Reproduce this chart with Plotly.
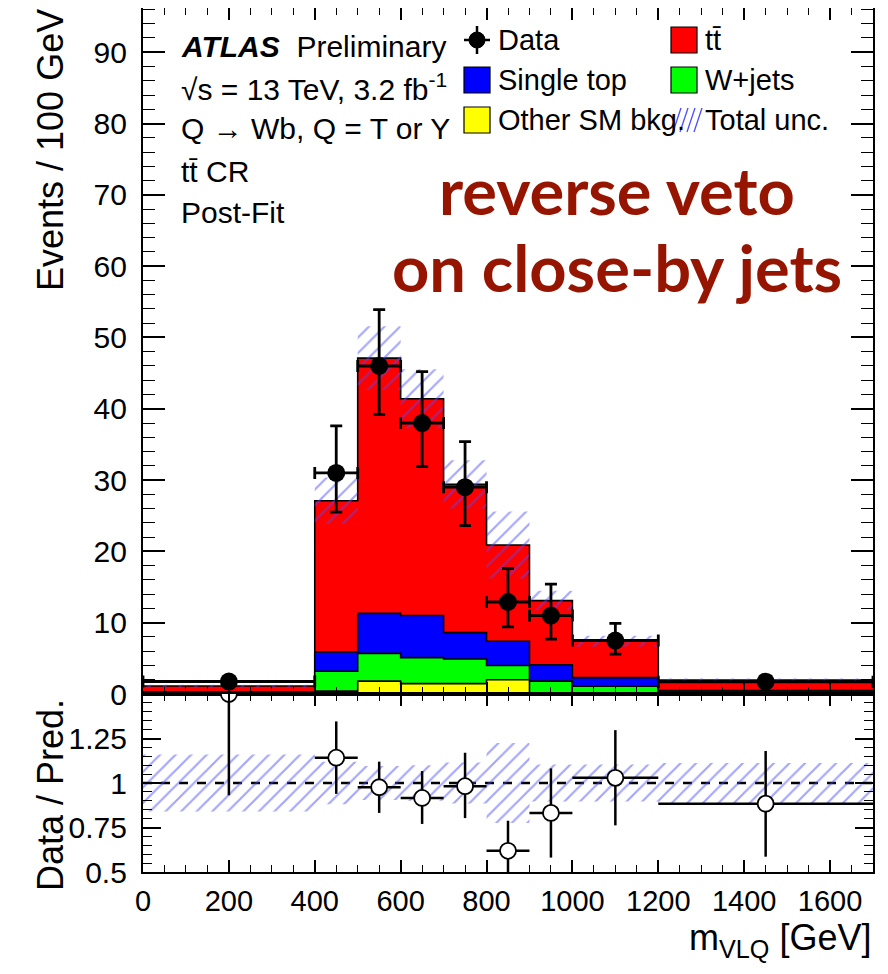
import plotly.graph_objects as go

# ---------------- data ----------------
edges = [0, 400, 500, 600, 700, 800, 900, 1000, 1200, 1700]
centers = [200, 450, 550, 650, 750, 850, 950, 1100, 1450]
half_widths = [200, 50, 50, 50, 50, 50, 50, 100, 250]

ttbar = [0.82, 21.2, 35.8, 30.4, 20.8, 13.5, 9.0, 5.1, 1.45]
single_top = [0.15, 2.7, 5.6, 5.9, 3.7, 3.4, 2.3, 1.2, 0.25]
wjets = [0.10, 2.8, 3.9, 3.65, 3.45, 2.0, 1.7, 1.05, 0.2]
other_sm = [0.05, 0.4, 1.8, 1.45, 1.45, 2.0, 0.1, 0.05, 0.05]
rel_unc = [0.16, 0.12, 0.095, 0.10, 0.115, 0.225, 0.104, 0.104, 0.113]

data = [1.75, 31.0, 46.0, 38.0, 29.0, 12.9, 11.0, 7.5, 1.72]
data_err_up = [0.65, 6.6, 7.9, 7.2, 6.4, 4.7, 4.4, 2.4, 0.8]
data_err_dn = [0.55, 5.5, 6.8, 6.1, 5.4, 3.5, 3.3, 1.9, 0.6]

ratio = [1.5, 1.142, 0.976, 0.916, 0.982, 0.619, 0.832, 1.029, 0.884]
ratio_err_up = [0.0, 0.204, 0.144, 0.151, 0.188, 0.169, 0.25, 0.268, 0.296]
ratio_err_dn = [0.569, 0.203, 0.144, 0.146, 0.179, 0.17, 0.251, 0.267, 0.298]

x_ticks = [0, 200, 400, 600, 800, 1000, 1200, 1400, 1600]
y_ticks = [0, 10, 20, 30, 40, 50, 60, 70, 80, 90]
ratio_ticks = [0.5, 0.75, 1.0, 1.25]
ratio_ticktext = ["0.5", "0.75", "1", "1.25"]

# ---------------- layout constants ----------------
OFF = 8  # default page body margin
W, H = 888 - 2 * OFF, 974 - 2 * OFF
ML, MR, MT, MB = 143 - OFF, W - (873 - OFF), 0, H - (872 - OFF)
PW, PH = W - ML - MR, H - MT - MB
SPLIT = (872 - 694) / PH  # ratio panel fraction

FONT = "Liberation Sans, Arial, Helvetica, sans-serif"
NARROW = "Liberation Sans Narrow, Liberation Sans, Arial, sans-serif"


def px(x):
    return (x - OFF - ML) / PW


def py(y):
    return (H - MB - (y - OFF)) / PH


def step(vals):
    return list(vals) + [vals[-1]]


cum_y = other_sm
cum_g = [a + b for a, b in zip(cum_y, wjets)]
cum_b = [a + b for a, b in zip(cum_g, single_top)]
total = [a + b for a, b in zip(cum_b, ttbar)]
band_lo = [t * (1 - r) for t, r in zip(total, rel_unc)]
band_hi = [t * (1 + r) for t, r in zip(total, rel_unc)]
rband_lo = [1 - r for r in rel_unc]
rband_hi = [1 + r for r in rel_unc]

HATCH_COL = "rgb(75,75,255)"
HATCH = dict(shape="/", fgcolor=HATCH_COL, bgcolor="rgba(0,0,0,0)",
             size=11, solidity=0.2)

fig = go.Figure()

for vals, col, name in [(total, "#ff0000", "tt"), (cum_b, "#0000ff", "Single top"),
                        (cum_g, "#00ff00", "W+jets"), (cum_y, "#ffff00", "Other SM")]:
    fig.add_trace(go.Scatter(x=edges, y=step(vals), mode="lines", line_shape="hv",
                             line=dict(color="black", width=1.6), fill="tozeroy",
                             fillcolor=col, name=name, showlegend=False,
                             xaxis="x", yaxis="y"))

fig.add_trace(go.Scatter(x=edges, y=step(band_lo), mode="lines", line_shape="hv",
                         line=dict(width=0, color="rgba(0,0,0,0)"), showlegend=False,
                         xaxis="x", yaxis="y", hoverinfo="skip"))
fig.add_trace(go.Scatter(x=edges, y=step(band_hi), mode="lines", line_shape="hv",
                         line=dict(width=0, color="rgba(0,0,0,0)"), fill="tonexty",
                         fillcolor="rgba(0,0,0,0)", fillpattern=HATCH,
                         showlegend=False, xaxis="x", yaxis="y", hoverinfo="skip"))

fig.add_trace(go.Scatter(
    x=centers, y=data, mode="markers",
    marker=dict(color="black", size=18, symbol="circle"),
    error_y=dict(type="data", symmetric=False, array=data_err_up, arrayminus=data_err_dn,
                 color="black", thickness=2.8, width=6),
    error_x=dict(type="data", array=half_widths, color="black", thickness=2.8, width=6),
    showlegend=False, xaxis="x", yaxis="y"))

# ratio panel
fig.add_trace(go.Scatter(x=edges, y=step(rband_lo), mode="lines", line_shape="hv",
                         line=dict(width=0, color="rgba(0,0,0,0)"), showlegend=False,
                         xaxis="x2", yaxis="y2", hoverinfo="skip"))
fig.add_trace(go.Scatter(x=edges, y=step(rband_hi), mode="lines", line_shape="hv",
                         line=dict(width=0, color="rgba(0,0,0,0)"), fill="tonexty",
                         fillcolor="rgba(0,0,0,0)", fillpattern=HATCH,
                         showlegend=False, xaxis="x2", yaxis="y2", hoverinfo="skip"))
fig.add_trace(go.Scatter(
    x=centers, y=ratio, mode="markers",
    marker=dict(color="white", size=16, symbol="circle", line=dict(color="black", width=1.8)),
    error_y=dict(type="data", symmetric=False, array=ratio_err_up, arrayminus=ratio_err_dn,
                 color="black", thickness=2.5, width=0),
    error_x=dict(type="data", array=half_widths, color="black", thickness=2.5, width=0),
    showlegend=False, xaxis="x2", yaxis="y2"))

axis_common = dict(showline=True, linecolor="black", linewidth=2.2, mirror="ticks",
                   ticks="inside", tickcolor="black", tickwidth=1.6, showgrid=False,
                   zeroline=False)
YFONT = dict(family=FONT, size=30, color="black")
XFONT = dict(family=NARROW, size=29, color="black")

fig.update_layout(
    width=W, height=H, margin=dict(l=ML, r=MR, t=MT, b=MB, autoexpand=False),
    paper_bgcolor="white", plot_bgcolor="white", showlegend=False,
    xaxis=dict(domain=[0, 1], anchor="y", range=[0, 1700], tickvals=x_ticks,
               showticklabels=False, ticklen=12,
               minor=dict(dtick=50, tick0=0, ticklen=7, ticks="inside", tickcolor="black",
                          tickwidth=1.4),
               matches="x2", **axis_common),
    yaxis=dict(domain=[SPLIT, 1], anchor="x", range=[0, 96.2], tickvals=y_ticks,
               ticklen=22, ticklabelstandoff=8, tickfont=YFONT,
               minor=dict(dtick=2, tick0=0, ticklen=12, ticks="inside", tickcolor="black",
                          tickwidth=1.4),
               **axis_common),
    xaxis2=dict(domain=[0, 1], anchor="y2", range=[0, 1700], tickvals=x_ticks,
                ticklen=12, ticklabelstandoff=2, tickfont=XFONT,
                minor=dict(dtick=50, tick0=0, ticklen=7, ticks="inside", tickcolor="black",
                           tickwidth=1.4),
                **axis_common),
    yaxis2=dict(domain=[0, SPLIT], anchor="x2", range=[0.5, 1.5], tickvals=ratio_ticks,
                ticktext=ratio_ticktext, ticklen=18, ticklabelstandoff=8, tickfont=YFONT,
                minor=dict(dtick=0.05, tick0=0.5, ticklen=9, ticks="inside", tickcolor="black",
                           tickwidth=1.4),
                **axis_common),
)

# dashed line at 1
fig.add_shape(type="line", xref="x2", yref="y2", x0=edges[0], x1=edges[-1], y0=1, y1=1,
              line=dict(color="black", width=2.5, dash="dash"), layer="below")

ann = []
TXT = 30
# axis titles
ann.append(dict(text="Events / 100 GeV", x=px(50), y=py(150), textangle=-90,
                font=dict(family=FONT, size=36, color="black")))
ann.append(dict(text="Data / Pred.", x=px(50), y=py(795), textangle=-90,
                font=dict(family=FONT, size=36, color="black")))
ann.append(dict(text="m<sub>VLQ</sub> [GeV]", x=1.0, y=py(940), xanchor="right",
                font=dict(family=FONT, size=36, color="black")))

# ATLAS labels
lines = ["<b><i>ATLAS</i></b>  Preliminary",
         "√s = 13 TeV, 3.2 fb<sup>-1</sup>",
         "Q → Wb, Q = T or Y",
         "tt\u0304 CR",
         "Post-Fit"]
for t, yy in zip(lines, [46, 87, 129, 171, 212]):
    ann.append(dict(text=t, x=px(179), y=py(yy), xanchor="left",
                    font=dict(family=FONT, size=TXT, color="black")))

# big red text
for t, yy in [("reverse veto", 190), ("on close-by jets", 267)]:
    ann.append(dict(text="<b>" + t + "</b>", x=px(617), y=py(yy),
                    font=dict(family="Lato, Open Sans, sans-serif", size=65, color="#961500")))

# legend
leg_rows = [40, 80, 120]
col1_box, col2_box = 464, 671
BOX = 26
legend_items = [
    ("Data", 0, 0, None),
    ("tt\u0304", 1, 0, "#ff0000"),
    ("Single top", 0, 1, "#0000ff"),
    ("W+jets", 1, 1, "#00ff00"),
    ("Other SM bkg.", 0, 2, "#ffff00"),
    ("Total unc.", 1, 2, "hatch"),
]
for label, col, row, color in legend_items:
    bx = col1_box if col == 0 else col2_box
    cy = leg_rows[row]
    if color is None:
        cx = bx + BOX / 2
        fig.add_shape(type="line", xref="paper", yref="paper", x0=px(cx), x1=px(cx),
                      y0=py(cy - 14), y1=py(cy + 14), line=dict(color="black", width=2.5))
        fig.add_shape(type="line", xref="paper", yref="paper", x0=px(bx), x1=px(bx + BOX),
                      y0=py(cy), y1=py(cy), line=dict(color="black", width=2.5))
        fig.add_shape(type="circle", xref="paper", yref="paper", x0=px(cx - 8), x1=px(cx + 8),
                      y0=py(cy + 8), y1=py(cy - 8), fillcolor="black",
                      line=dict(color="black", width=1))
    elif color == "hatch":
        for k in range(4):
            x0 = bx + 2 + k * 7
            fig.add_shape(type="line", xref="paper", yref="paper", x0=px(x0), x1=px(x0 + 8),
                          y0=py(cy + 12), y1=py(cy - 12),
                          line=dict(color=HATCH_COL, width=1.3))
    else:
        fig.add_shape(type="rect", xref="paper", yref="paper", x0=px(bx), x1=px(bx + BOX),
                      y0=py(cy + BOX / 2), y1=py(cy - BOX / 2), fillcolor=color,
                      line=dict(color="black", width=1.2))
    ann.append(dict(text=label, x=px(bx + BOX + 6), y=py(cy), xanchor="left",
                    font=dict(family=FONT, size=29, color="black")))

for a in ann:
    a.setdefault("xanchor", "center")
    a.setdefault("yanchor", "middle")
    a.update(xref="paper", yref="paper", showarrow=False)
fig.update_layout(annotations=ann)

fig.write_html("out.html")
